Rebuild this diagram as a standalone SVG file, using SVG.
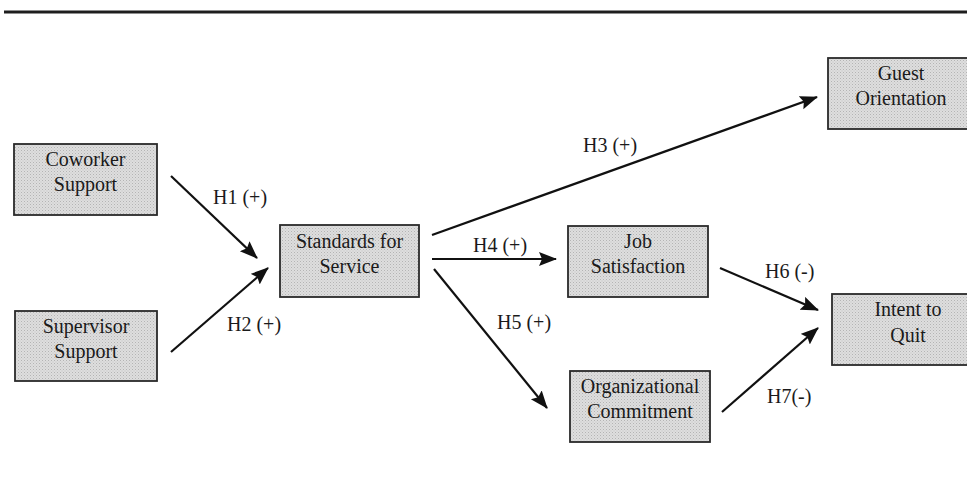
<svg xmlns="http://www.w3.org/2000/svg" width="967" height="485" viewBox="0 0 967 485">
<style>
.box{fill:url(#dots);stroke:#2a2a2a;stroke-width:1.8}
.t{font-family:"Liberation Serif","Times New Roman",serif;font-size:20px;fill:#1a1a1a;text-anchor:middle}
.lbl{font-family:"Liberation Serif","Times New Roman",serif;font-size:20px;fill:#1a1a1a}
.c{stroke:#111;stroke-width:2.2;fill:none;marker-end:url(#ah)}
</style>
<defs>
<pattern id="dots" width="3" height="3" patternUnits="userSpaceOnUse">
<rect width="3" height="3" fill="#dedede"/>
<rect width="1" height="1" fill="#b4b4b4"/>
<rect x="1.5" y="1.5" width="1" height="1" fill="#c4c4c4"/>
</pattern>
<marker id="ah" markerUnits="userSpaceOnUse" markerWidth="20" markerHeight="16" refX="17" refY="7" orient="auto">
<path d="M0,0 L18,7 L0,14 L3,7 z" fill="#111"/>
</marker>
</defs>
<rect x="4" y="10.5" width="963" height="3" fill="#1e1e1e"/>
<g id="connectors">
<line class="c" x1="171" y1="176" x2="257" y2="258"/>
<line class="c" x1="171" y1="352" x2="268" y2="268"/>
<line class="c" x1="432" y1="235" x2="817" y2="97"/>
<line class="c" x1="432" y1="259" x2="556" y2="259"/>
<line class="c" x1="434" y1="269" x2="547" y2="408"/>
<line class="c" x1="720" y1="268" x2="818" y2="310"/>
<line class="c" x1="722" y1="412" x2="818" y2="328"/>
<text class="lbl" x="213" y="204">H1 (+)</text>
<text class="lbl" x="227" y="331">H2 (+)</text>
<text class="lbl" x="583" y="152">H3 (+)</text>
<text class="lbl" x="473" y="252">H4 (+)</text>
<text class="lbl" x="497" y="329">H5 (+)</text>
<text class="lbl" x="765" y="278">H6 (-)</text>
<text class="lbl" x="767" y="403">H7(-)</text>
</g>
<g id="coworker">
<rect class="box" x="14" y="144" width="143" height="71"/>
<text class="t" x="85.5" y="166">Coworker</text>
<text class="t" x="85.5" y="191">Support</text>
</g>
<g id="supervisor">
<rect class="box" x="15" y="311" width="142" height="70"/>
<text class="t" x="86" y="333">Supervisor</text>
<text class="t" x="86" y="358">Support</text>
</g>
<g id="standards">
<rect class="box" x="280" y="225" width="139" height="72"/>
<text class="t" x="349.5" y="248">Standards for</text>
<text class="t" x="349.5" y="273">Service</text>
</g>
<g id="guest">
<rect class="box" x="828" y="58" width="146" height="71"/>
<text class="t" x="901" y="80">Guest</text>
<text class="t" x="901" y="105">Orientation</text>
</g>
<g id="job">
<rect class="box" x="568" y="226" width="140" height="71"/>
<text class="t" x="638" y="248">Job</text>
<text class="t" x="638" y="273">Satisfaction</text>
</g>
<g id="intent">
<rect class="box" x="832" y="294" width="152" height="71"/>
<text class="t" x="908" y="316">Intent to</text>
<text class="t" x="908" y="342">Quit</text>
</g>
<g id="commitment">
<rect class="box" x="570" y="371" width="140" height="71"/>
<text class="t" x="640" y="393">Organizational</text>
<text class="t" x="640" y="418">Commitment</text>
</g>
</svg>
